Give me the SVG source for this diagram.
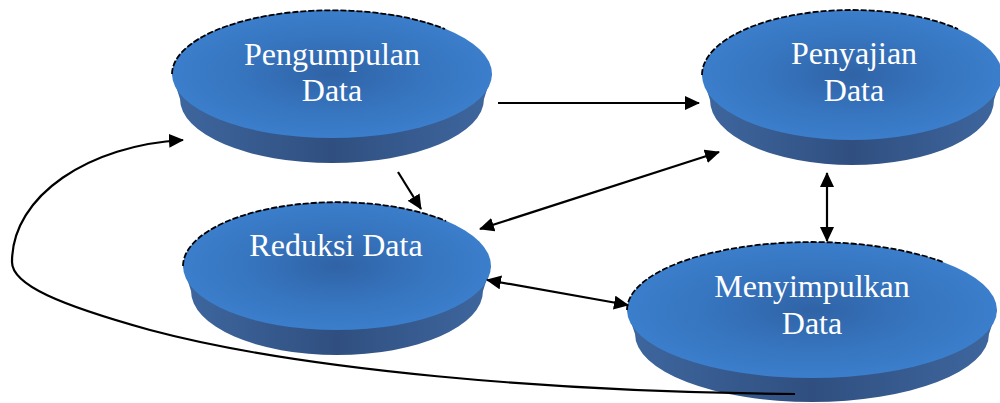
<svg xmlns="http://www.w3.org/2000/svg" width="1000" height="403" viewBox="0 0 1000 403">
<defs>
<radialGradient id="gTop" cx="50%" cy="50%" r="50%">
<stop offset="0" stop-color="#3063A6"/>
<stop offset="0.55" stop-color="#3674BE"/>
<stop offset="1" stop-color="#3B7ECB"/>
</radialGradient>
<linearGradient id="gSide" x1="0" y1="0" x2="1" y2="0">
<stop offset="0" stop-color="#3E679F"/>
<stop offset="0.5" stop-color="#304F80"/>
<stop offset="1" stop-color="#3E679F"/>
</linearGradient>
<marker id="ah" markerUnits="userSpaceOnUse" markerWidth="15" markerHeight="14" viewBox="0 0 15 14" refX="14" refY="7" orient="auto-start-reverse">
<path d="M0,0 L15,7 L0,14 Z" fill="#000"/>
</marker>
<style>
.side{fill:url(#gSide)}
.top{fill:url(#gTop)}
.rim{fill:none;stroke:#000;stroke-width:1.8;stroke-dasharray:6 2}
.lbl{font-family:"Liberation Serif","Times New Roman",serif;font-size:32px;fill:#fff;text-anchor:middle}
.con{fill:none;stroke:#000;stroke-width:2.2}
</style>
</defs>
<g id="node-pengumpulan">
<path class="side" d="M172,74 L180,99 A152 64 0 0 0 484,99 L492,74 Z"/>
<ellipse class="top" cx="332" cy="74" rx="160" ry="64"/>
<path class="rim" d="M172,74 A160 64 0 0 1 445,29"/>
<text class="lbl" x="332" y="65">Pengumpulan</text>
<text class="lbl" x="332" y="101">Data</text>
</g>
<g id="node-penyajian">
<path class="side" d="M702,75 L710,100 A142 65 0 0 0 994,100 L1002,75 Z"/>
<ellipse class="top" cx="852" cy="75" rx="150" ry="65"/>
<path class="rim" d="M702,75 A150 65 0 0 1 958,29"/>
<text class="lbl" x="854" y="64">Penyajian</text>
<text class="lbl" x="854" y="101">Data</text>
</g>
<g id="node-reduksi">
<path class="side" d="M183,266 L191,291 A146 64 0 0 0 483,291 L491,266 Z"/>
<ellipse class="top" cx="337" cy="266" rx="154" ry="64"/>
<path class="rim" d="M183,266 A154 64 0 0 1 446,221"/>
<text class="lbl" x="336" y="256">Reduksi Data</text>
</g>
<g id="node-menyimpulkan">
<path class="side" d="M627,310 L635,334 A177 68 0 0 0 989,334 L997,310 Z"/>
<ellipse class="top" cx="812" cy="310" rx="185" ry="68"/>
<path class="rim" d="M627,310 A185 68 0 0 1 943,262"/>
<text class="lbl" x="812" y="297">Menyimpulkan</text>
<text class="lbl" x="812" y="334">Data</text>
</g>
<g id="connectors">
<line class="con" x1="498" y1="103" x2="699" y2="103" marker-end="url(#ah)"/>
<line class="con" x1="398" y1="172" x2="421" y2="209" marker-end="url(#ah)"/>
<line class="con" x1="480" y1="229" x2="719" y2="152" marker-start="url(#ah)" marker-end="url(#ah)"/>
<line class="con" x1="487" y1="280" x2="628" y2="305" marker-start="url(#ah)" marker-end="url(#ah)"/>
<line class="con" x1="827" y1="173" x2="827" y2="241" marker-start="url(#ah)" marker-end="url(#ah)"/>
<path class="con" d="M795,394 C550,392 300,370 150,330 C60,305 12,285 12,262 C12,195 90,145 183,140" marker-end="url(#ah)"/>
</g>
</svg>
